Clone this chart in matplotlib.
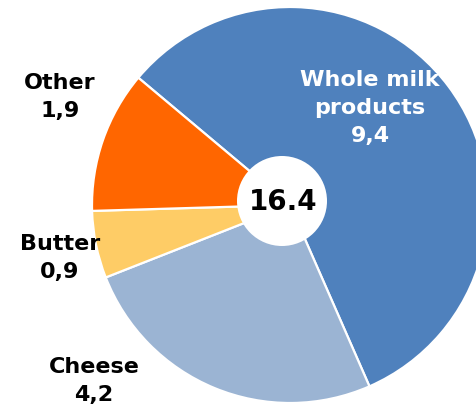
import matplotlib
matplotlib.use("Agg")
import matplotlib.pyplot as plt
from matplotlib.patches import Circle

categories = ["Whole milk\nproducts", "Cheese", "Butter", "Other"]
values = [9.4, 4.2, 0.9, 1.9]
value_labels = ["9,4", "4,2", "0,9", "1,9"]
total_label = "16.4"
colors = ["#4F81BD", "#9BB4D3", "#FECC66", "#FF6600"]

W, H, dpi = 477, 409, 100
fig = plt.figure(figsize=(W / dpi, H / dpi), dpi=dpi)
ax = fig.add_axes([0, 0, 1, 1])
R = 198.0
cx, cy = 290.0, 205.0

wedges, _ = ax.pie(values, colors=colors, startangle=140, counterclock=False,
                   radius=1.0, center=(0, 0), frame=True,
                   wedgeprops=dict(edgecolor="white", linewidth=1.6))
ax.set_xlim(-cx / R, (W - cx) / R)
ax.set_ylim(-(H - cy) / R, cy / R)
ax.set_aspect("equal")
ax.axis("off")

# center hole
ax.add_patch(Circle((-8 / R, 4 / R), 45 / R, facecolor="white", edgecolor="none", zorder=5))
ax.text(-7 / R, 3 / R, total_label, ha="center", va="center", fontsize=20,
        fontweight="bold", color="black", zorder=6, family="DejaVu Sans")

fs = 16
label_pos = [(80, 97), (-196, -176), (-230, -53), (-230, 108)]
label_col = ["white", "black", "black", "black"]
for cat, val, (dx, dy), col in zip(categories, value_labels, label_pos, label_col):
    ax.text(dx / R, dy / R, f"{cat}\n{val}", ha="center", va="center",
            fontsize=fs, fontweight="bold", color=col, linespacing=1.5,
            family="DejaVu Sans")

fig.savefig("out.png", dpi=dpi)
